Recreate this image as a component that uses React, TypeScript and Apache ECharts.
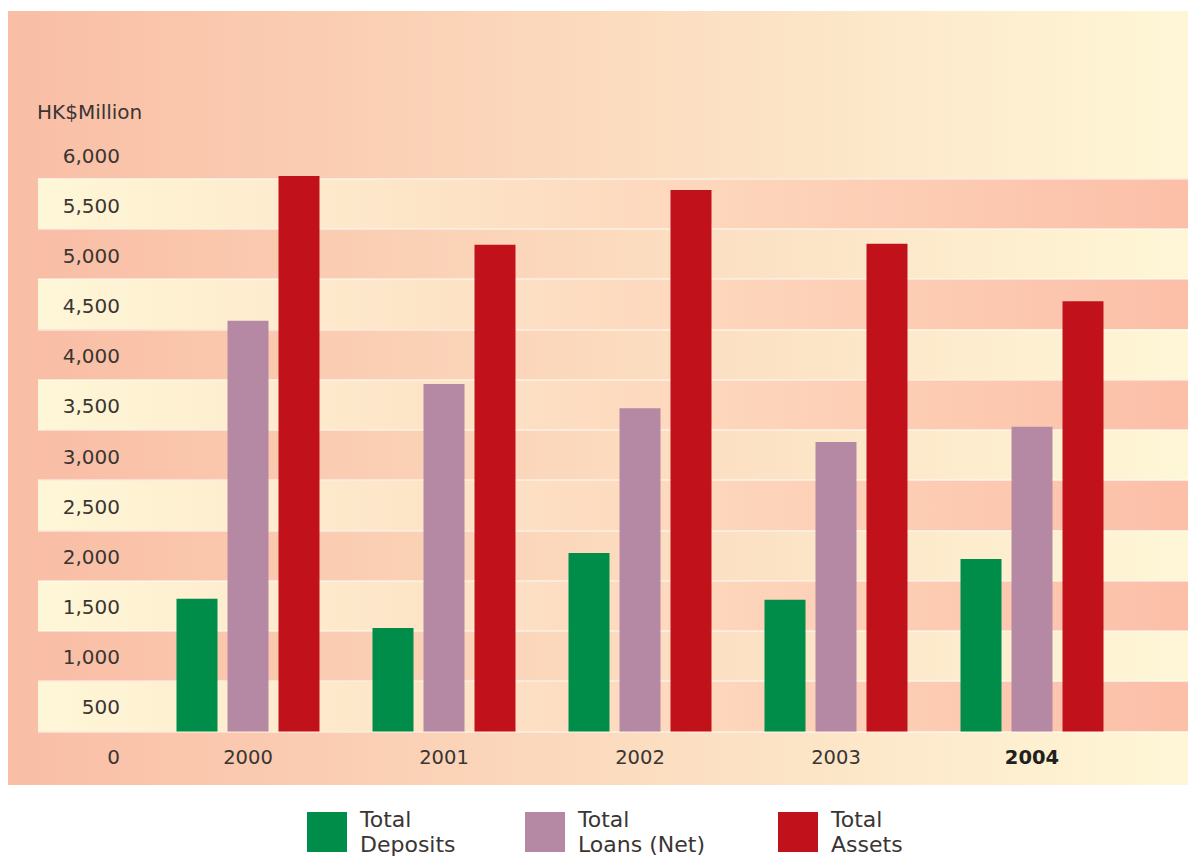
import React, { useEffect, useRef } from 'react';
import * as echarts from 'echarts';

// ---- data ----
const years = ['2000', '2001', '2002', '2003', '2004'];
const totalDeposits = [1320, 1030, 1775, 1310, 1715];
const totalLoansNet = [4085, 3455, 3215, 2880, 3030];
const totalAssets = [5525, 4840, 5385, 4850, 4280];
const seriesNames = ['Total Deposits', 'Total Loans (Net)', 'Total Assets'];
const yTickLabels = ['0', '500', '1,000', '1,500', '2,000', '2,500', '3,000', '3,500', '4,000', '4,500', '5,000', '5,500', '6,000'];
const unitLabel = 'HK$Million';
const highlightYear = '2004';

// ---- styles ----
const SALMON = '#F9BEA5';
const SALMON_R = '#FCBFA8';
const PALE = '#FEF7D7';
const GREEN = '#008D4A';
const PURPLE = '#B589A3';
const RED = '#C1121B';
const TEXT = '#3a3533';
const FONT = 'DejaVu Sans';

const hGrad = (a: string, b: string) => new echarts.graphic.LinearGradient(0, 0, 1, 0, [
  { offset: 0, color: a },
  { offset: 1, color: b },
]);

export default function App() {
  const ref = useRef<HTMLDivElement>(null);

  useEffect(() => {
    const chart = echarts.init(ref.current as HTMLDivElement, null, { renderer: 'svg' });

    const base = 731.5;
    const pxPer = 603.3 / 6000;

    const legendBase = {
      icon: 'rect',
      itemWidth: 40,
      itemHeight: 40,
      padding: 0,
      top: 803,
      selectedMode: false,
      formatter: (n: string) => n.replace(' ', '\n'),
      textStyle: {
        fontFamily: FONT,
        fontSize: 22,
        lineHeight: 25,
        color: TEXT,
        padding: [8, 0, 0, 8],
      },
    };

    const option: any = {
      animation: false,
      title: {
        text: unitLabel,
        left: 37,
        top: 100,
        padding: 0,
        textStyle: { fontFamily: FONT, fontSize: 20, fontWeight: 'normal', color: TEXT, lineHeight: 24 },
      },
      graphic: {
        z: -100,
        elements: [
          {
            type: 'rect',
            z: -100,
            silent: true,
            shape: { x: 8, y: 11, width: 1180, height: 774 },
            style: { fill: hGrad(SALMON, PALE) },
          },
        ],
      },
      grid: [
        // bands
        { left: 38, right: 0, top: base - 5500 * pxPer, bottom: 860 - base },
        // bars
        { left: 150, right: 58, top: base - 6000 * pxPer, bottom: 860 - base },
        // tick labels
        { left: 128, width: 10, top: 156, bottom: 103 },
      ],
      xAxis: [
        { type: 'value', gridIndex: 0, show: false, min: 0, max: 1 },
        {
          type: 'category',
          gridIndex: 1,
          data: years,
          axisLine: { show: false },
          axisTick: { show: false },
          splitLine: { show: false },
          axisLabel: {
            margin: 25.5,
            verticalAlign: 'middle',
            fontFamily: FONT,
            fontSize: 19.5,
            color: TEXT,
            formatter: (v: string) => (v === highlightYear ? `{b|${v}}` : `{n|${v}}`),
            rich: {
              n: { fontFamily: FONT, fontSize: 19.5, color: TEXT, verticalAlign: 'middle' },
              b: { fontFamily: FONT, fontSize: 19.5, fontWeight: 'bold', color: '#231f20', verticalAlign: 'middle' },
            },
          },
        },
        { type: 'value', gridIndex: 2, show: false, min: 0, max: 1 },
      ],
      yAxis: [
        {
          type: 'value',
          gridIndex: 0,
          min: 0,
          max: 5500,
          interval: 500,
          axisLine: { show: false },
          axisTick: { show: false },
          axisLabel: { show: false },
          splitLine: { show: true, lineStyle: { color: 'rgba(255,255,255,0.6)', width: 1.5 } },
          splitArea: {
            show: true,
            areaStyle: { color: [hGrad(PALE, SALMON_R), hGrad(SALMON, PALE)] },
          },
        },
        { type: 'value', gridIndex: 1, min: 0, max: 6000, show: false, splitLine: { show: false } },
        {
          type: 'value',
          gridIndex: 2,
          min: 0,
          max: 6000,
          interval: 500,
          axisLine: { show: false },
          axisTick: { show: false },
          splitLine: { show: false },
          axisLabel: {
            margin: 8,
            fontFamily: FONT,
            fontSize: 20,
            color: TEXT,
            formatter: (v: number) => yTickLabels[Math.round(v / 500)] ?? '',
          },
        },
      ],
      legend: [
        { ...legendBase, left: 307, data: [seriesNames[0]] },
        { ...legendBase, left: 525, data: [seriesNames[1]] },
        { ...legendBase, left: 778, data: [seriesNames[2]] },
      ],
      series: [
        { name: seriesNames[0], data: totalDeposits, color: GREEN },
        { name: seriesNames[1], data: totalLoansNet, color: PURPLE },
        { name: seriesNames[2], data: totalAssets, color: RED },
      ].map((s) => ({
        type: 'bar',
        name: s.name,
        data: s.data,
        xAxisIndex: 1,
        yAxisIndex: 1,
        barWidth: 41,
        barGap: '24.4%',
        itemStyle: { color: s.color },
        emphasis: { disabled: true },
      })),
    };

    chart.setOption(option);
    return () => chart.dispose();
  }, []);

  return (
    <div
      ref={ref}
      style={{ position: 'absolute', left: 0, top: 0, width: 1188, height: 860 }}
    />
  );
}
